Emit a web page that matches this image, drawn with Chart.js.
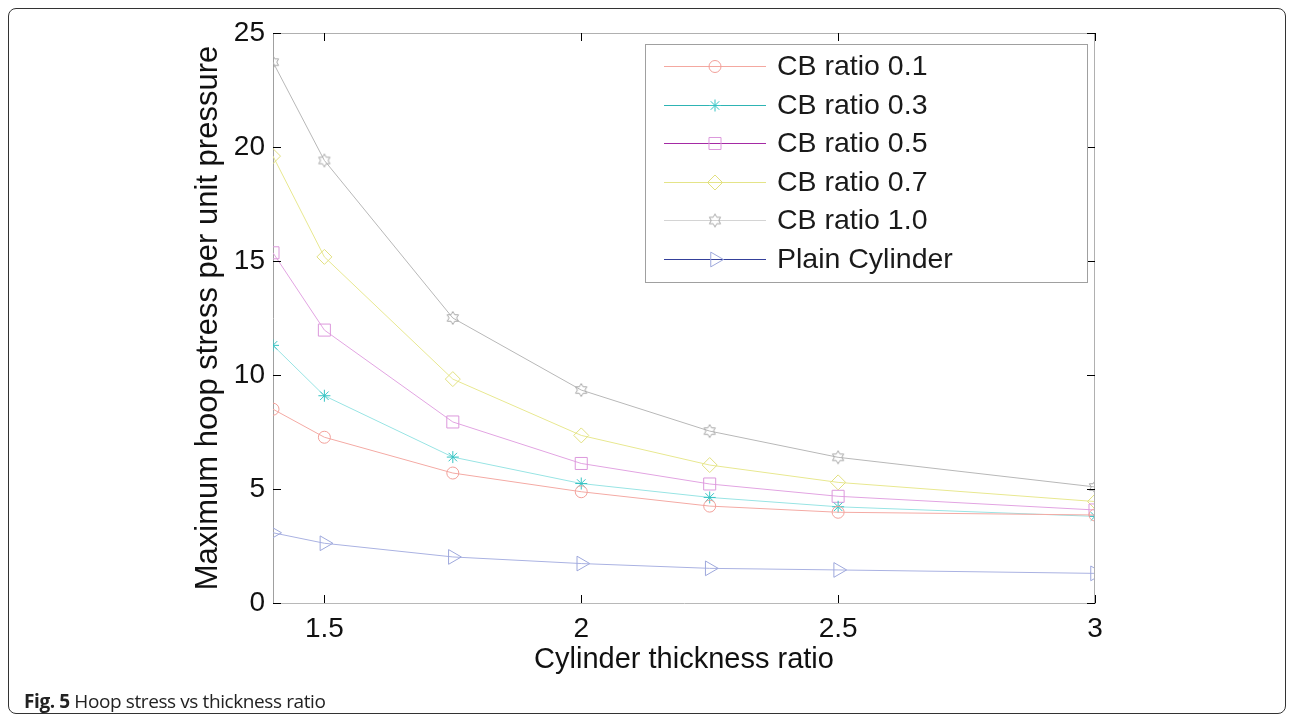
<!DOCTYPE html>
<html>
<head>
<meta charset="utf-8">
<script src="https://cdn.jsdelivr.net/npm/chart.js@4.4.1/dist/chart.umd.min.js"></script>
<style>
  html, body { margin: 0; padding: 0; background: #fff; }
  #wrap { position: relative; width: 1293px; height: 720px; overflow: hidden; }
  #frame { position: absolute; left: 8px; top: 8px; width: 1276px; height: 704px;
           border: 1px solid #333; border-radius: 8px; pointer-events: none; }
  #caption { position: absolute; left: 24px; top: 688px; font-family: "Open Sans", sans-serif;
             font-size: 19px; color: #222; white-space: nowrap; letter-spacing: -0.4px; }
  canvas { position: absolute; left: 0; top: 0; }
</style>
</head>
<body>
<div id="wrap">
  <canvas id="hoopChart" width="1293" height="720"></canvas>
  <div id="frame"></div>
  <div id="caption"><b>Fig. 5</b> Hoop stress vs thickness ratio</div>
</div>
<script>
// thickness ratios and stress values
var thickness = [1.4, 1.5, 1.75, 2, 2.25, 2.5, 3];
var cb01 = [8.5, 7.27, 5.7, 4.88, 4.25, 3.98, 3.86];
var cb03 = [11.3, 9.09, 6.4, 5.24, 4.63, 4.22, 3.8];
var cb05 = [15.36, 11.97, 7.94, 6.12, 5.22, 4.68, 4.08];
var cb07 = [19.6, 15.18, 9.82, 7.35, 6.05, 5.29, 4.45];
var cb10 = [23.72, 19.41, 12.5, 9.34, 7.54, 6.39, 5.09];
var plain = [3.08, 2.62, 2.02, 1.73, 1.52, 1.45, 1.3];

var xTicks = [1.5, 2, 2.5, 3];
var yTicks = [0, 5, 10, 15, 20, 25];
var seriesNames = ["CB ratio 0.1", "CB ratio 0.3", "CB ratio 0.5", "CB ratio 0.7", "CB ratio 1.0", "Plain Cylinder"];
// the legend samples are drawn darker than the plotted lines
var legendLine = ['#f4a8a0', '#2eb4b4', '#a42aa4', '#e4e488', '#d4d4d4', '#34409a'];

// six pointed star marker (not built into Chart.js)
function hexagram(color, r) {
  var s = Math.ceil(r * 2 + 3);
  var c = document.createElement('canvas');
  c.width = s; c.height = s;
  var g = c.getContext('2d');
  g.strokeStyle = color;
  g.lineWidth = 1;
  g.beginPath();
  for (var i = 0; i < 12; i++) {
    var ang = -Math.PI / 2 + i * Math.PI / 6;
    var rr = i % 2 === 0 ? r : r * 0.577;
    var px = s / 2 + rr * Math.cos(ang), py = s / 2 + rr * Math.sin(ang);
    if (i === 0) g.moveTo(px, py); else g.lineTo(px, py);
  }
  g.closePath();
  g.stroke();
  return c;
}

function pts(vals) {
  return vals.map(function(v, i) { return { x: thickness[i], y: v }; });
}

function series(i, vals, line, mark, style, radius, rot) {
  return {
    label: seriesNames[i],
    data: pts(vals),
    borderColor: line,
    borderWidth: 1,
    fill: false,
    tension: 0,
    pointStyle: style,
    pointRadius: radius,
    pointHoverRadius: radius,
    pointRotation: rot || 0,
    pointBorderColor: mark,
    pointBorderWidth: 1,
    pointBackgroundColor: 'rgba(0,0,0,0)'
  };
}

var datasets = [
  series(0, cb01, '#f4aaa4', '#f2a09a', 'circle', 6),
  series(1, cb03, '#98e4e4', '#36c4c4', 'star', 6),
  series(2, cb05, '#e2a4e2', '#dc98dc', 'rect', 8.5),
  series(3, cb07, '#e8e890', '#e2e080', 'rectRot', 7.5),
  series(4, cb10, '#b8b8b8', '#a8a8a8', hexagram('#a8a8a8', 6.5), 7),
  series(5, plain, '#aab2e2', '#9ea8dc', 'triangle', 8.5, 90)
];

// box lines on top/right and inward black ticks on all four sides
var boxTicks = {
  id: 'boxTicks',
  afterDatasetsDraw: function(chart) {
    var ctx = chart.ctx, a = chart.chartArea, x = chart.scales.x, y = chart.scales.y;
    ctx.save();
    ctx.lineWidth = 1;
    ctx.strokeStyle = '#b0b0b0';
    ctx.beginPath();
    ctx.moveTo(a.left, a.top + 0.5); ctx.lineTo(a.right, a.top + 0.5);
    ctx.moveTo(a.right - 0.5, a.top); ctx.lineTo(a.right - 0.5, a.bottom);
    ctx.stroke();
    ctx.strokeStyle = '#000';
    ctx.beginPath();
    x.ticks.forEach(function(t) {
      var px = Math.round(x.getPixelForValue(t.value)) + 0.5;
      ctx.moveTo(px, a.bottom); ctx.lineTo(px, a.bottom - 8);
      ctx.moveTo(px, a.top); ctx.lineTo(px, a.top + 8);
    });
    y.ticks.forEach(function(t) {
      var py = Math.round(y.getPixelForValue(t.value)) + 0.5;
      ctx.moveTo(a.left, py); ctx.lineTo(a.left + 8, py);
      ctx.moveTo(a.right, py); ctx.lineTo(a.right - 8, py);
    });
    ctx.stroke();
    ctx.restore();
  }
};

// MATLAB style legend: line sample with marker in the middle
var boxLegend = {
  id: 'boxLegend',
  afterDraw: function(chart) {
    var ctx = chart.ctx;
    var bx = 645.5, by = 44.5, bw = 442, bh = 238;
    ctx.save();
    ctx.fillStyle = '#fff';
    ctx.fillRect(bx, by, bw, bh);
    ctx.strokeStyle = '#a0a0a0';
    ctx.lineWidth = 1;
    ctx.strokeRect(bx, by, bw, bh);
    ctx.font = '28.5px "Liberation Sans", Arial, sans-serif';
    ctx.textBaseline = 'middle';
    chart.data.datasets.forEach(function(ds, i) {
      var cy = Math.round(66 + i * 38.6) + 0.5;
      ctx.strokeStyle = legendLine[i];
      ctx.beginPath();
      ctx.moveTo(664, cy);
      ctx.lineTo(766, cy);
      ctx.stroke();
      ctx.strokeStyle = ds.pointBorderColor;
      ctx.fillStyle = 'rgba(0,0,0,0)';
      if (Chart.helpers && Chart.helpers.drawPoint) {
        Chart.helpers.drawPoint(ctx, {
          pointStyle: ds.pointStyle, radius: ds.pointRadius,
          rotation: ds.pointRotation, borderWidth: 1
        }, 715, cy);
      }
      ctx.fillStyle = '#1a1a1a';
      ctx.fillText(ds.label, 777, cy + 1);
    });
    ctx.restore();
  }
};

var tickFont = { family: '"Liberation Sans", Arial, sans-serif', size: 28 };

new Chart(document.getElementById('hoopChart').getContext('2d'), {
  type: 'line',
  data: { datasets: datasets },
  options: {
    responsive: false,
    animation: false,
    devicePixelRatio: 1,
    layout: { padding: { left: 190, right: 198, top: 33, bottom: 40 } },
    plugins: { legend: { display: false }, tooltip: { enabled: false } },
    scales: {
      x: {
        type: 'linear',
        min: 1.4,
        max: 3,
        afterBuildTicks: function(s) { s.ticks = xTicks.map(function(v) { return { value: v }; }); },
        afterFit: function(s) { s.height = 77; },
        grid: { display: false, drawTicks: false },
        border: { color: '#b8b8b8', width: 1 },
        ticks: { color: '#111', font: tickFont, padding: 9, maxRotation: 0,
                 callback: function(v) { return String(v); } },
        title: { display: true, text: 'Cylinder thickness ratio', color: '#111',
                 font: { family: '"Liberation Sans", Arial, sans-serif', size: 29 },
                 padding: { top: 0, bottom: 3 } }
      },
      y: {
        min: 0,
        max: 25,
        afterBuildTicks: function(s) { s.ticks = yTicks.map(function(v) { return { value: v }; }); },
        afterFit: function(s) { s.width = 83; },
        grid: { display: false, drawTicks: false },
        border: { color: '#a0a0a0', width: 1 },
        ticks: { color: '#111', font: tickFont, padding: 8,
                 callback: function(v) { return String(v); } },
        title: { display: true, text: 'Maximum hoop stress per unit pressure', color: '#111',
                 font: { family: '"Liberation Sans", Arial, sans-serif', size: 31 },
                 padding: { top: 0, bottom: 0 } }
      }
    }
  },
  plugins: [boxTicks, boxLegend]
});
</script>
</body>
</html>
